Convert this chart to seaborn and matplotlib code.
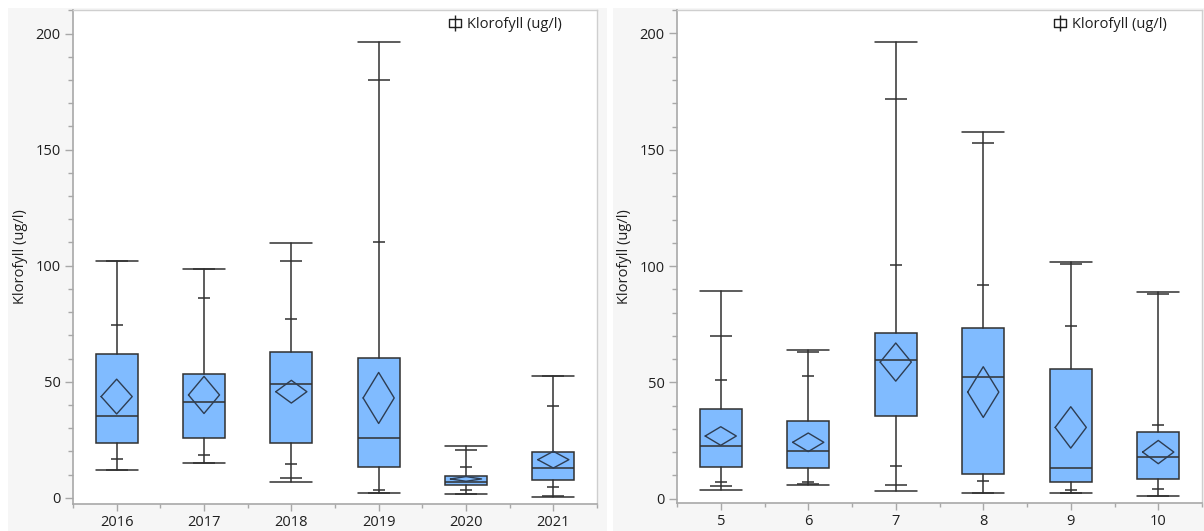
import matplotlib
matplotlib.use("Agg")
import matplotlib.pyplot as plt
import numpy as np
import seaborn as sns
from matplotlib.lines import Line2D
from matplotlib.patches import Rectangle
from matplotlib.path import Path
from matplotlib.ticker import FixedLocator, MultipleLocator

# ---- data (Klorofyll ug/l) ----
YEARS = ["2016", "2017", "2018", "2019", "2020", "2021"]
YEAR_MIN = [12.0, 15.0, 6.8, 2.2, 1.5, 0.5]
YEAR_P025 = [12.0, 15.0, 8.3, 2.2, 1.5, 0.8]
YEAR_P10 = [16.9, 18.4, 14.7, 3.5, 3.5, 4.7]
YEAR_Q1 = [23.8, 25.9, 23.8, 13.1, 5.7, 7.7]
YEAR_MED = [35.4, 41.1, 49.2, 25.9, 6.8, 12.6]
YEAR_Q3 = [62.0, 53.3, 62.7, 60.1, 9.5, 19.9]
YEAR_P90 = [74.4, 86.2, 77.0, 110.3, 13.1, 39.6]
YEAR_P975 = [102.0, 98.7, 102.0, 180.2, 20.5, 52.6]
YEAR_MAX = [102.0, 98.7, 109.9, 196.6, 22.2, 52.6]
YEAR_MEAN = [43.6, 44.3, 45.7, 43.0, 8.1, 16.4]
YEAR_CI = [7.5, 8.0, 4.9, 11.0, 1.0, 3.6]

MONTHS = ["5", "6", "7", "8", "9", "10"]
MONTH_MIN = [3.5, 5.8, 3.2, 2.2, 2.2, 1.1]
MONTH_P025 = [5.2, 6.4, 5.7, 2.6, 2.2, 1.1]
MONTH_P10 = [7.2, 7.2, 14.1, 7.4, 3.7, 4.2]
MONTH_Q1 = [13.6, 13.0, 35.5, 10.5, 7.0, 8.4]
MONTH_MED = [22.6, 20.3, 59.4, 52.1, 13.1, 17.7]
MONTH_Q3 = [38.6, 33.2, 71.3, 73.5, 55.7, 28.6]
MONTH_P90 = [51.0, 52.5, 100.5, 92.0, 74.0, 31.8]
MONTH_P975 = [69.7, 63.0, 171.7, 153.1, 101.0, 87.9]
MONTH_MAX = [89.4, 64.0, 196.2, 157.8, 101.9, 88.9]
MONTH_MEAN = [26.9, 24.2, 58.7, 45.8, 30.6, 20.0]
MONTH_CI = [4.0, 4.0, 8.2, 10.9, 8.9, 5.0]

LABEL = "Klorofyll (ug/l)"

BOX_FILL = "#80bbff"
EDGE = "#303030"
DIAMOND = "#2e3d52"
SPINE = "#a8a8a8"
PANEL_BG = "#f6f6f6"
FS = 10.5

sns.set_theme(style="white")
plt.rcParams["font.family"] = ["Open Sans", "DejaVu Sans"]
plt.rcParams["font.size"] = FS


def legend_marker():
    verts = [(-1, -0.7), (1, -0.7), (1, 0.7), (-1, 0.7), (-1, -0.7),
             (0, -1.4), (0, 1.4)]
    codes = [Path.MOVETO, Path.LINETO, Path.LINETO, Path.LINETO, Path.CLOSEPOLY,
             Path.MOVETO, Path.LINETO]
    return Path(verts, codes)


def draw_panel(ax, labels, mins, p025, p10, q1, med, q3, p90, p975, maxs, means, ci, ylim):
    pos = np.arange(len(labels))
    stats = []
    for i, lab in enumerate(labels):
        stats.append({"label": lab, "whislo": mins[i], "q1": q1[i], "med": med[i],
                      "q3": q3[i], "whishi": maxs[i], "fliers": []})
    ax.bxp(stats, positions=pos, widths=0.48, capwidths=0.48, patch_artist=True,
           showfliers=False,
           boxprops=dict(facecolor=BOX_FILL, edgecolor=EDGE, linewidth=1.1),
           whiskerprops=dict(color=EDGE, linewidth=1.1),
           capprops=dict(color=EDGE, linewidth=1.1),
           medianprops=dict(color=EDGE, linewidth=1.1))

    # quantile ticks on the whiskers
    for vals, half in [(p025, 0.126), (p975, 0.126), (p10, 0.07), (p90, 0.07)]:
        ax.hlines(vals, pos - half, pos + half, color=EDGE, linewidth=1.1, zorder=3)

    # means diamonds
    hw = 0.178
    for i in pos:
        xs = [i - hw, i, i + hw, i, i - hw]
        ys = [means[i], means[i] + ci[i], means[i], means[i] - ci[i], means[i]]
        ax.plot(xs, ys, color=DIAMOND, linewidth=1.0, zorder=4)

    ax.set_xlim(-0.5, len(labels) - 0.5)
    ax.set_ylim(*ylim)
    ax.set_xticks(pos)
    ax.set_xticklabels(labels)
    ax.xaxis.set_minor_locator(FixedLocator(np.arange(-0.5, len(labels), 1.0)))
    ax.yaxis.set_major_locator(MultipleLocator(50))
    ax.yaxis.set_minor_locator(MultipleLocator(10))
    ax.tick_params(axis="both", which="major", direction="out", length=6, width=1,
                   color=SPINE, labelsize=FS, labelcolor="#1f1f1f", pad=3,
                   left=True, bottom=True)
    ax.tick_params(axis="both", which="minor", direction="out", length=3.5, width=1,
                   color=SPINE, left=True, bottom=True)
    ax.tick_params(axis="x", which="major", length=5)
    ax.tick_params(axis="x", which="minor", length=3)
    for side in ["left", "bottom"]:
        ax.spines[side].set_color(SPINE)
        ax.spines[side].set_linewidth(1.2)
    for side in ["top", "right"]:
        ax.spines[side].set_color("#cfcfcf")
        ax.spines[side].set_linewidth(1.0)
    ax.set_facecolor("white")
    ax.set_xlabel("")
    ax.set_ylabel(LABEL, fontsize=FS, color="#1f1f1f", labelpad=5)
    ax.grid(False)

    handle = Line2D([0], [0], linestyle="none", marker=legend_marker(), markersize=12,
                    markerfacecolor="none", markeredgecolor="#202020", markeredgewidth=1.0)
    ax.legend([handle], [LABEL], loc="center right", bbox_to_anchor=(0.947, 0.97),
              frameon=False, borderpad=0, handletextpad=0.35, handlelength=1.0,
              fontsize=FS, labelcolor="#1f1f1f")


fig = plt.figure(figsize=(12.04, 5.31), dpi=100, facecolor="white")
W, H = 1204.0, 531.0
fig.add_artist(Rectangle((8 / W, 0), (607 - 8) / W, (531 - 8) / H, transform=fig.transFigure,
                         facecolor=PANEL_BG, edgecolor="none", zorder=-1))
fig.add_artist(Rectangle((613 / W, 0), (1204 - 613) / W, (531 - 8) / H, transform=fig.transFigure,
                         facecolor=PANEL_BG, edgecolor="none", zorder=-1))

ax1 = fig.add_axes([73 / W, (H - 504) / H, (597 - 73) / W, (504 - 10) / H])
ax2 = fig.add_axes([677 / W, (H - 503) / H, (1202 - 677) / W, (503 - 10) / H])

draw_panel(ax1, YEARS, YEAR_MIN, YEAR_P025, YEAR_P10, YEAR_Q1, YEAR_MED, YEAR_Q3,
           YEAR_P90, YEAR_P975, YEAR_MAX, YEAR_MEAN, YEAR_CI, (-2.7, 210.2))
draw_panel(ax2, MONTHS, MONTH_MIN, MONTH_P025, MONTH_P10, MONTH_Q1, MONTH_MED, MONTH_Q3,
           MONTH_P90, MONTH_P975, MONTH_MAX, MONTH_MEAN, MONTH_CI, (-1.9, 210.1))

fig.savefig("out.png", dpi=100, facecolor=fig.get_facecolor())
